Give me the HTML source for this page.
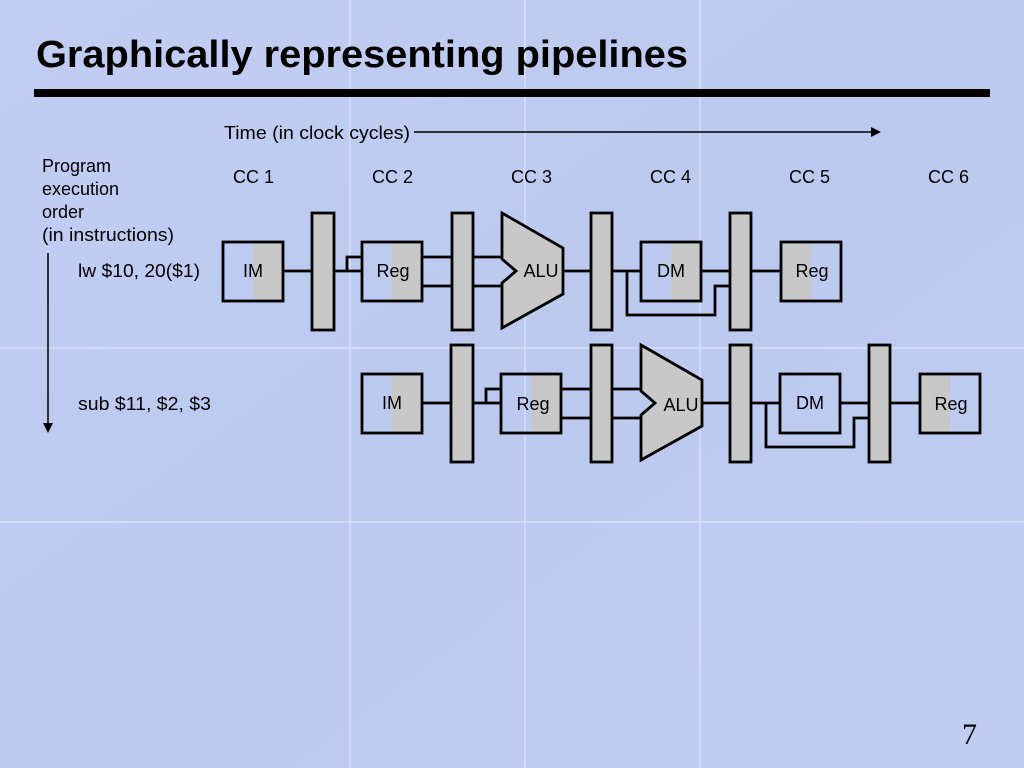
<!DOCTYPE html>
<html><head><meta charset="utf-8"><style>
html,body{margin:0;padding:0}
body{width:1024px;height:768px;overflow:hidden;background:#bccbf0;}
svg{display:block}
text{font-family:"Liberation Sans",Arial,sans-serif;fill:#000}
</style></head><body>
<svg width="1024" height="768" viewBox="0 0 1024 768" xmlns="http://www.w3.org/2000/svg">
<defs>
<linearGradient id="bg" x1="0" y1="0" x2="1" y2="1">
<stop offset="0" stop-color="#c2cdf2"/><stop offset="0.5" stop-color="#bccaf0"/><stop offset="1" stop-color="#c1ccf1"/>
</linearGradient>
<g id="row" stroke="#000" stroke-width="2.8" fill="none">
<rect x="253" y="242" width="30" height="59" fill="#c8c8c8" stroke="none"/>
<rect x="223" y="242" width="60" height="59"/>
<line x1="283" y1="271" x2="312" y2="271"/>
<rect x="312" y="213" width="22" height="117" fill="#c8c8c8"/>
<polyline points="334,271 362,271"/>
<polyline points="347,271 347,257 362,257"/>
<rect x="392" y="242" width="30" height="59" fill="#c8c8c8" stroke="none"/>
<rect x="362" y="242" width="60" height="59"/>
<line x1="422" y1="257" x2="452" y2="257"/><line x1="422" y1="286" x2="452" y2="286"/>
<rect x="452" y="213" width="21" height="117" fill="#c8c8c8"/>
<line x1="473" y1="257" x2="502" y2="257"/><line x1="473" y1="286" x2="502" y2="286"/>
<polygon points="502,213 563,248 563,294 502,328 502,283 516,271 502,259" fill="#c8c8c8"/>
<line x1="563" y1="271" x2="591" y2="271"/>
<rect x="591" y="213" width="21" height="117" fill="#c8c8c8"/>
<line x1="612" y1="271" x2="641" y2="271"/>
<polyline points="627,271 627,315 715,315 715,286 730,286"/>
<line x1="701" y1="271" x2="730" y2="271"/>
<rect x="730" y="213" width="21" height="117" fill="#c8c8c8"/>
<line x1="751" y1="271" x2="781" y2="271"/>
<rect x="781" y="242" width="30" height="59" fill="#c8c8c8" stroke="none"/>
<rect x="781" y="242" width="60" height="59"/>
</g>
</defs>
<rect width="1024" height="768" fill="url(#bg)"/>
<g stroke="#e6ecff" stroke-width="1.2" opacity="0.8">
<line x1="350" y1="0" x2="350" y2="768"/><line x1="525" y1="0" x2="525" y2="768"/><line x1="700" y1="0" x2="700" y2="768"/>
<line x1="0" y1="348" x2="1024" y2="348"/><line x1="0" y1="522" x2="1024" y2="522"/>
</g>
<text x="36" y="67" font-size="38" font-weight="bold" textLength="652" lengthAdjust="spacingAndGlyphs">Graphically representing pipelines</text>
<rect x="34" y="89" width="956" height="8" fill="#000"/>
<text x="224" y="139" font-size="18" textLength="186" lengthAdjust="spacingAndGlyphs">Time (in clock cycles)</text>
<line x1="414" y1="132" x2="873" y2="132" stroke="#000" stroke-width="1.5"/>
<polygon points="881,132 871,127 871,137" fill="#000"/>
<g font-size="18">
<text x="42" y="172">Program</text><text x="42" y="195">execution</text><text x="42" y="218">order</text><text x="42" y="241" textLength="132" lengthAdjust="spacingAndGlyphs">(in instructions)</text>
<text x="233" y="183">CC 1</text><text x="372" y="183">CC 2</text><text x="511" y="183">CC 3</text><text x="650" y="183">CC 4</text><text x="789" y="183">CC 5</text><text x="928" y="183">CC 6</text>
<text x="78" y="277" textLength="122" lengthAdjust="spacingAndGlyphs">lw $10, 20($1)</text>
<text x="78" y="410" textLength="133" lengthAdjust="spacingAndGlyphs">sub $11, $2, $3</text>
</g>
<line x1="48" y1="253" x2="48" y2="424" stroke="#000" stroke-width="1.5"/>
<polygon points="48,433 43,423 53,423" fill="#000"/>
<use href="#row"/>
<g transform="translate(139,132)"><use href="#row"/></g>
<rect x="671" y="242" width="30" height="59" fill="#c8c8c8"/>
<rect x="641" y="242" width="60" height="59" fill="none" stroke="#000" stroke-width="2.8"/>
<rect x="780" y="374" width="60" height="59" fill="none" stroke="#000" stroke-width="2.8"/>
<g font-size="18" text-anchor="middle">
<text x="253" y="277">IM</text><text x="393" y="277">Reg</text><text x="541" y="277">ALU</text><text x="671" y="277">DM</text><text x="812" y="277">Reg</text>
<text x="392" y="409">IM</text><text x="533" y="410">Reg</text><text x="681" y="411">ALU</text><text x="810" y="409">DM</text><text x="951" y="410">Reg</text>
</g>
<text x="962" y="744" font-size="30" style="font-family:'Liberation Serif',serif">7</text>
</svg>
</body></html>
